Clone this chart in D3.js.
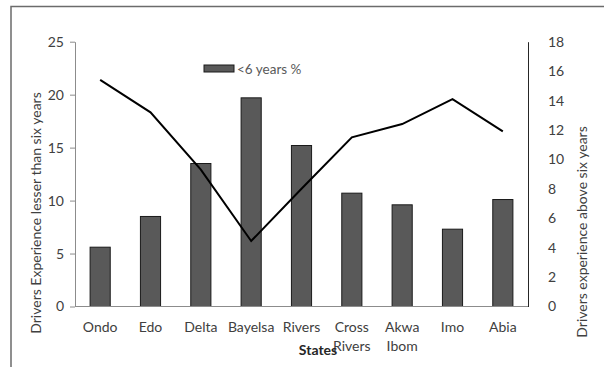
<!DOCTYPE html>
<html>
<head>
<meta charset="utf-8">
<script src="https://cdn.jsdelivr.net/npm/d3@7"></script>
<style>
  html, body { margin: 0; padding: 0; background: #fff; }
  svg { display: block; font-family: Lato, "Open Sans", sans-serif; }
</style>
</head>
<body>
<svg id="chart" width="604" height="367"></svg>
<script>
// States surveyed (second line used where the name wraps)
const states = ["Ondo", "Edo", "Delta", "Bayelsa", "Rivers", "Cross Rivers", "Akwa Ibom", "Imo", "Abia"];
// Drivers with less than six years experience (%), bars on left axis
const lessThanSix = [5.6, 8.5, 13.5, 19.7, 15.2, 10.7, 9.6, 7.3, 10.1];
// Drivers with more than six years experience (%), line on right axis
const aboveSix = [15.4, 13.2, 9.3, 4.45, 8.0, 11.5, 12.4, 14.1, 11.9];
const leftTicks = [0, 5, 10, 15, 20, 25];
const rightTicks = [0, 2, 4, 6, 8, 10, 12, 14, 16, 18];

const svg = d3.select("#chart");
const plot = { left: 75, right: 528, top: 41.7, bottom: 306.5 };
const fs = 14;

// Outer frame (top and left edges)
svg.append("path")
  .attr("d", "M11,367 V6.5 H604")
  .attr("fill", "none").attr("stroke", "#6b6b6b").attr("stroke-width", 1.5);

const x = d3.scaleBand().domain(states).range([plot.left, plot.right]).paddingInner(0.6).paddingOuter(0.3);
const yL = d3.scaleLinear().domain([0, 25]).range([plot.bottom, plot.top]);
const yR = d3.scaleLinear().domain([0, 18]).range([plot.bottom, plot.top]);
const xc = d => x(d) + x.bandwidth() / 2;

// Bars
svg.append("g").selectAll("rect").data(states).join("rect")
  .attr("x", d => x(d))
  .attr("y", (d, i) => yL(lessThanSix[i]))
  .attr("width", x.bandwidth())
  .attr("height", (d, i) => plot.bottom - yL(lessThanSix[i]))
  .attr("fill", "#595959").attr("stroke", "#1a1a1a").attr("stroke-width", 1);

// Left axis
const gL = svg.append("g").attr("transform", `translate(${plot.left},0)`)
  .call(d3.axisLeft(yL).tickValues(leftTicks).tickSize(5).tickSizeOuter(0).tickPadding(6));
gL.select(".domain").attr("stroke", "#8c8c8c");
gL.selectAll(".tick line").attr("stroke", "#8c8c8c");
gL.selectAll("text").attr("font-size", fs).attr("fill", "#404040").attr("font-family", "Lato, sans-serif");

// Right axis (no tick marks)
const gR = svg.append("g").attr("transform", `translate(${plot.right},0)`)
  .call(d3.axisRight(yR).tickValues(rightTicks).tickSize(0).tickPadding(20));
gR.select(".domain").attr("stroke", "#262626");
gR.selectAll("text").attr("font-size", fs).attr("fill", "#404040").attr("font-family", "Lato, sans-serif");

// Category baseline
svg.append("line")
  .attr("x1", plot.left).attr("x2", plot.right)
  .attr("y1", plot.bottom).attr("y2", plot.bottom)
  .attr("stroke", "#8c8c8c").attr("stroke-width", 1);

// Category labels
const catG = svg.append("g").attr("font-size", fs).attr("fill", "#404040").attr("text-anchor", "middle");
states.forEach(s => {
  const t = catG.append("text").attr("x", xc(s)).attr("y", 332);
  s.split(" ").forEach((w, j) => {
    t.append("tspan").attr("x", xc(s)).attr("dy", j === 0 ? 0 : 18.5).text(w);
  });
});

// Line series
const line = d3.line().x((d, i) => xc(states[i])).y(d => yR(d));
svg.append("path").datum(aboveSix)
  .attr("d", line)
  .attr("fill", "none").attr("stroke", "#000").attr("stroke-width", 2);

// Legend
svg.append("rect").attr("x", 204).attr("y", 65).attr("width", 30).attr("height", 7)
  .attr("fill", "#595959").attr("stroke", "#1a1a1a").attr("stroke-width", 1);
svg.append("text").attr("x", 237).attr("y", 73.5).attr("font-size", 13.5).attr("fill", "#595959")
  .text("<6 years %");

// Axis titles
svg.append("text").attr("transform", "translate(41,213) rotate(-90)")
  .attr("text-anchor", "middle").attr("font-size", fs).attr("fill", "#404040")
  .text("Drivers Experience lesser than six years");
svg.append("text").attr("transform", "translate(587,232) rotate(-90)")
  .attr("text-anchor", "middle").attr("font-size", fs).attr("fill", "#404040")
  .text("Drivers experience above six years");
svg.append("text").attr("x", 318).attr("y", 355).attr("text-anchor", "middle")
  .attr("font-size", fs).attr("font-weight", "bold").attr("fill", "#262626")
  .text("States");
</script>
</body>
</html>
